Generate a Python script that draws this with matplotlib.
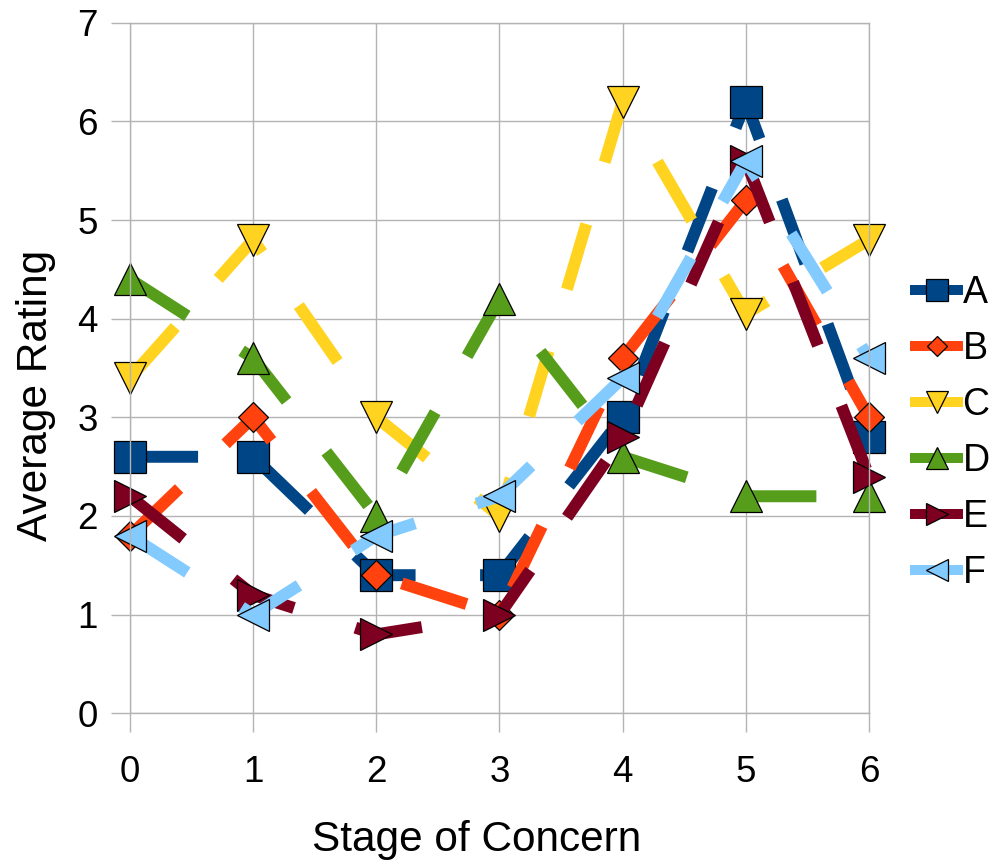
import matplotlib
matplotlib.use("Agg")
import matplotlib.pyplot as plt

stages = [0, 1, 2, 3, 4, 5, 6]
series_names = ["A", "B", "C", "D", "E", "F"]
A = [2.6, 2.6, 1.4, 1.4, 3.0, 6.2, 2.8]
B = [1.8, 3.0, 1.4, 1.0, 3.6, 5.2, 3.0]
C = [3.4, 4.8, 3.0, 2.0, 6.2, 4.05, 4.8]
D = [4.4, 3.6, 2.0, 4.2, 2.6, 2.2, 2.2]
E = [2.2, 1.2, 0.8, 1.0, 2.8, 5.6, 2.4]
F = [1.8, 1.0, 1.8, 2.2, 3.4, 5.6, 3.6]
x_ticks = [0, 1, 2, 3, 4, 5, 6]
y_ticks = [0, 1, 2, 3, 4, 5, 6, 7]

colors = ["#004586", "#ff420e", "#ffd320", "#579d1c", "#7e0021", "#83caff"]
markers = ["s", "D", "v", "^", ">", "<"]
msizes = [23, 15.5, 23, 23, 23, 23]

plt.rcParams["font.family"] = ["Liberation Sans", "DejaVu Sans"]

fig = plt.figure(figsize=(9.95, 8.67), dpi=100)
ax = fig.add_axes([130 / 995, 1 - 713.3 / 867, (869 - 130) / 995, (713.3 - 22.7) / 867])

grid_c = "#b3b3b3"
lw = 8.6
for name, vals, c, m, ms in zip(series_names, [A, B, C, D, E, F], colors, markers, msizes):
    ax.plot(stages, vals, color=c, lw=lw, dashes=(5.7, 5.4), dash_capstyle="butt",
            marker=m, markersize=ms, markerfacecolor=c, markeredgecolor="black",
            markeredgewidth=0.9, label=name, clip_on=False)

ax.set_xlim(0, 6)
ax.set_ylim(0, 7)
ax.set_xticks(x_ticks)
ax.set_yticks(y_ticks)
ax.grid(True, color=grid_c, lw=1.0)
ax.set_axisbelow(True)
for s in ax.spines.values():
    s.set_color(grid_c)
    s.set_linewidth(1.0)
ax.tick_params(axis="both", length=14, width=1.0, color=grid_c, labelsize=26.5)
ax.tick_params(axis="y", pad=9)
ax.tick_params(axis="x", pad=16)

ax.set_xlabel("Stage of Concern", fontsize=30.5)
ax.xaxis.set_label_coords((477 - 130) / 739, (713.3 - 820) / 690.6)
ax.set_ylabel("Average Rating", fontsize=30.5)
ax.yaxis.set_label_coords((56 - 130) / 739, (713.3 - 395) / 690.6)

leg = fig.legend(loc="center left", bbox_to_anchor=(915 / 995, 1 - 433 / 867),
                 frameon=False, fontsize=27, handlelength=1.15, handletextpad=0.12,
                 labelspacing=0.53, borderaxespad=0, borderpad=0, markerscale=0.68)
for h in leg.legend_handles:
    h.set_linestyle("-")
    h.set_linewidth(7.2)

fig.savefig("out.png", dpi=100)
